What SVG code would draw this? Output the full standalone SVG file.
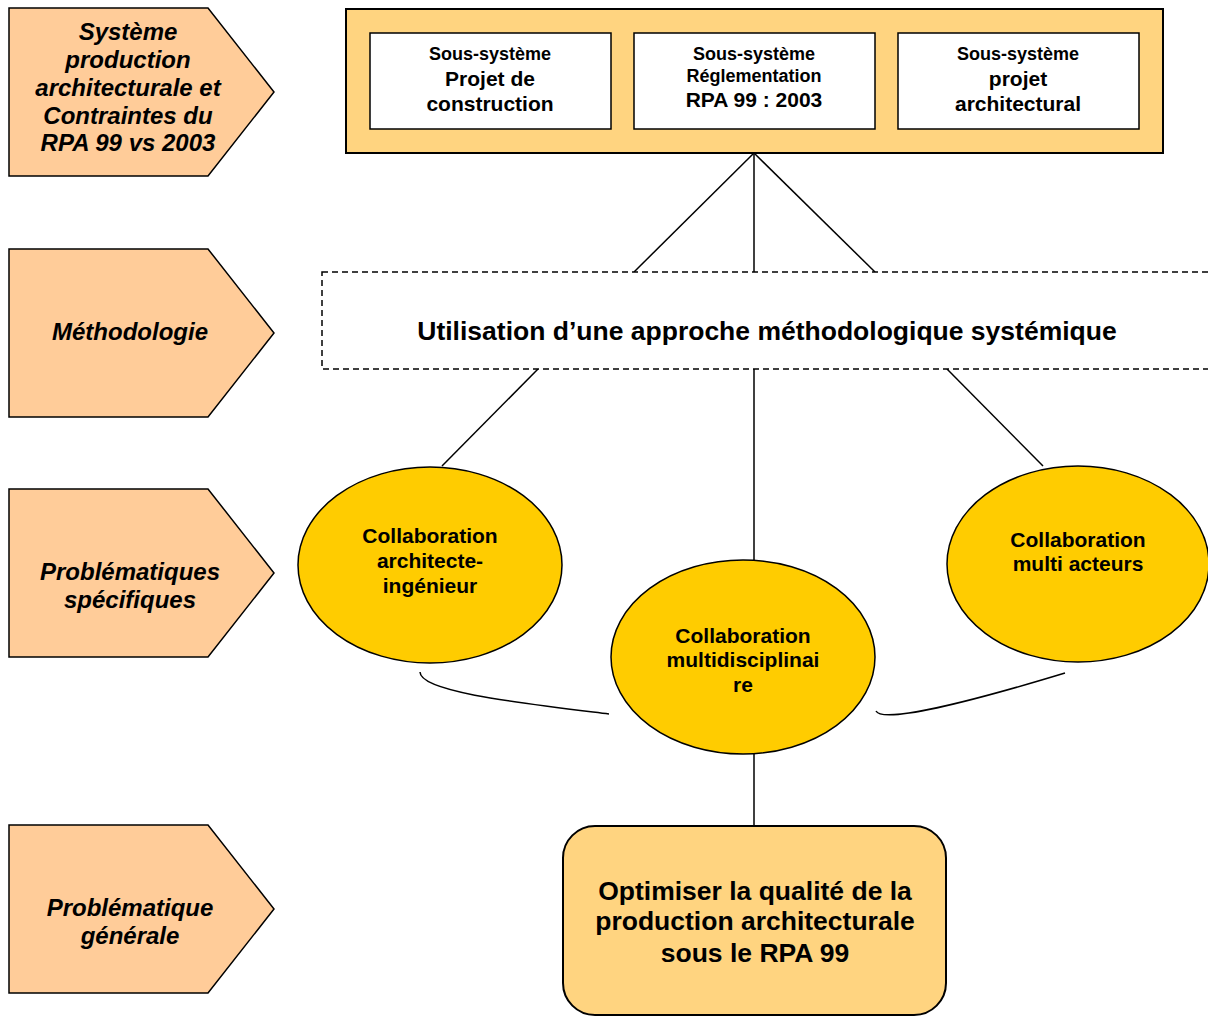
<svg xmlns="http://www.w3.org/2000/svg" width="1208" height="1017" viewBox="0 0 1208 1017">
  <style>
    text { font-family: "Liberation Sans", Arial, sans-serif; font-weight: bold; fill: #000; text-anchor: middle; }
    .lbl { font-style: italic; font-size: 24px; }
    .pent { fill: #FFCC99; stroke: #000; stroke-width: 1.5; }
    .frame { fill: #FFD480; stroke: #000; stroke-width: 2; }
    .sub { fill: #fff; stroke: #000; stroke-width: 1.5; }
    .ell { fill: #FFCC00; stroke: #000; stroke-width: 1.5; }
    .conn { fill: none; stroke: #000; stroke-width: 1.5; }
    .s { font-size: 18px; }
    .m { font-size: 21px; }
    .e { font-size: 21px; }
    .b { font-size: 26.5px; }
  </style>

  <!-- Row labels -->
  <g id="label-systeme">
    <polygon class="pent" points="9,8 208,8 274,92 208,176 9,176"/>
    <text class="lbl" x="128" y="40">Système</text>
    <text class="lbl" x="128" y="68">production</text>
    <text class="lbl" x="128" y="96">architecturale et</text>
    <text class="lbl" x="128" y="124">Contraintes du</text>
    <text class="lbl" x="128" y="151">RPA 99 vs 2003</text>
  </g>
  <g id="label-methodologie">
    <polygon class="pent" points="9,249 208,249 274,333 208,417 9,417"/>
    <text class="lbl" x="130" y="340">Méthodologie</text>
  </g>
  <g id="label-specifiques">
    <polygon class="pent" points="9,489 208,489 274,573 208,657 9,657"/>
    <text class="lbl" x="130" y="580">Problématiques</text>
    <text class="lbl" x="130" y="608">spécifiques</text>
  </g>
  <g id="label-generale">
    <polygon class="pent" points="9,825 208,825 274,909 208,993 9,993"/>
    <text class="lbl" x="130" y="916">Problématique</text>
    <text class="lbl" x="130" y="944">générale</text>
  </g>

  <!-- Connectors -->
  <g id="connectors">
    <line class="conn" x1="754" y1="153" x2="634" y2="272"/>
    <line class="conn" x1="754" y1="153" x2="754" y2="272"/>
    <line class="conn" x1="754" y1="153" x2="875" y2="272"/>
    <line class="conn" x1="538" y1="369" x2="442" y2="466"/>
    <line class="conn" x1="754" y1="369" x2="754" y2="561"/>
    <line class="conn" x1="947" y1="369" x2="1043" y2="466"/>
    <path class="conn" d="M420,672 C420,692 520,703 609,714"/>
    <path class="conn" d="M876,711 C880,719 920,717 1065,673"/>
    <line class="conn" x1="754" y1="754" x2="754" y2="826"/>
  </g>

  <!-- System frame with three sub-systems -->
  <g id="systeme">
    <rect class="frame" x="346" y="9" width="817" height="144"/>
  </g>
  <g id="sous-systeme-construction">
    <rect class="sub" x="370" y="33" width="241" height="96"/>
    <text class="s" x="490" y="59.5">Sous-système</text>
    <text class="m" x="490" y="85.5">Projet de</text>
    <text class="m" x="490" y="110.5">construction</text>
  </g>
  <g id="sous-systeme-reglementation">
    <rect class="sub" x="634" y="33" width="241" height="96"/>
    <text class="s" x="754" y="59.5">Sous-système</text>
    <text class="s" x="754" y="81.5">Réglementation</text>
    <text class="m" x="754" y="107">RPA 99 : 2003</text>
  </g>
  <g id="sous-systeme-architectural">
    <rect class="sub" x="898" y="33" width="241" height="96"/>
    <text class="s" x="1018" y="59.5">Sous-système</text>
    <text class="m" x="1018" y="85.5">projet</text>
    <text class="m" x="1018" y="110.5">architectural</text>
  </g>

  <!-- Methodology band -->
  <g id="methodologie">
    <rect x="322" y="272" width="900" height="97" fill="#fff" stroke="#000" stroke-width="1.5" stroke-dasharray="6,4"/>
    <text x="767" y="339.5" font-size="26.5">Utilisation d’une approche méthodologique systémique</text>
  </g>

  <!-- Specific problems -->
  <g id="collab-architecte-ingenieur">
    <ellipse class="ell" cx="430" cy="565" rx="132" ry="98"/>
    <text class="e" x="430" y="542.5">Collaboration</text>
    <text class="e" x="430" y="567.5">architecte-</text>
    <text class="e" x="430" y="592.5">ingénieur</text>
  </g>
  <g id="collab-multidisciplinaire">
    <ellipse class="ell" cx="743" cy="657" rx="132" ry="97"/>
    <text class="e" x="743" y="642.5">Collaboration</text>
    <text class="e" x="743" y="666.5">multidisciplinai</text>
    <text class="e" x="743" y="692">re</text>
  </g>
  <g id="collab-multi-acteurs">
    <ellipse class="ell" cx="1078" cy="564" rx="131" ry="98"/>
    <text class="e" x="1078" y="546.5">Collaboration</text>
    <text class="e" x="1078" y="570.5">multi acteurs</text>
  </g>

  <!-- General problem -->
  <g id="objectif">
    <rect class="frame" x="563" y="826" width="383" height="189" rx="32" ry="32"/>
    <text class="b" x="755" y="899.5">Optimiser la qualité de la</text>
    <text class="b" x="755" y="929.5">production architecturale</text>
    <text class="b" x="755" y="961.5">sous le RPA 99</text>
  </g>
</svg>
